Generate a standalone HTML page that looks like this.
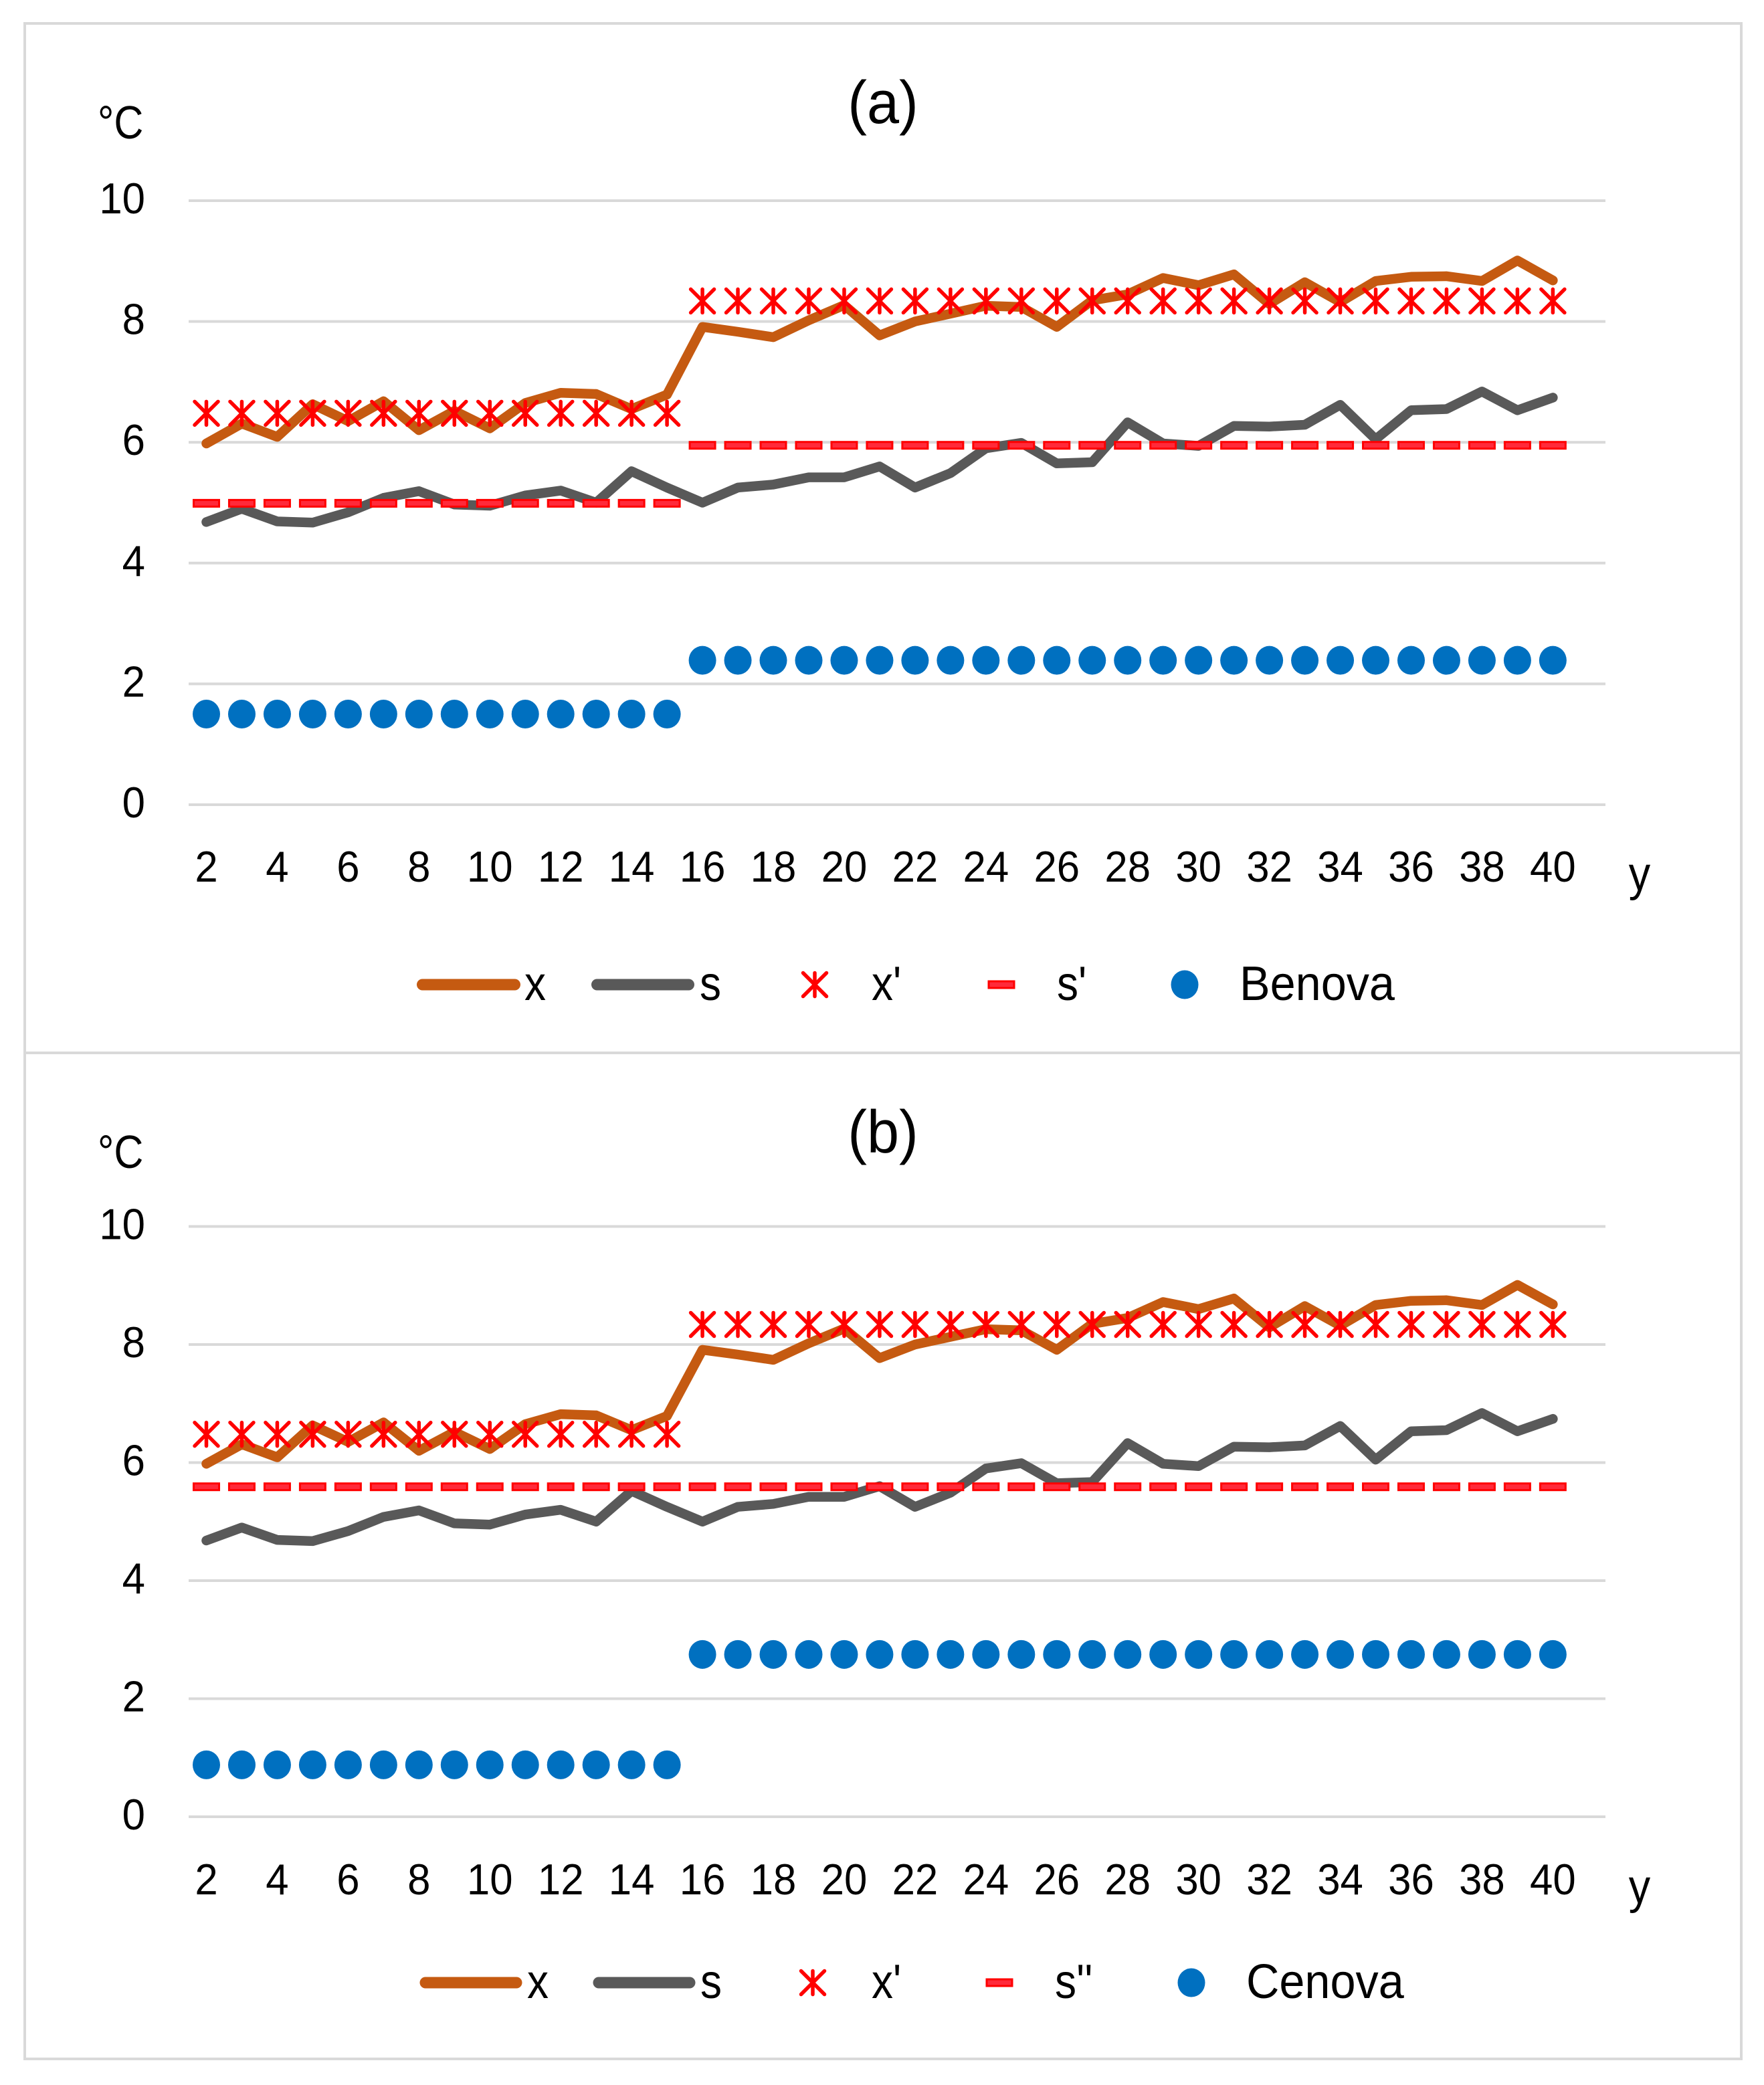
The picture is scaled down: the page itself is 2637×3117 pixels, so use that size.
<!DOCTYPE html>
<html lang="en">
<head>
<meta charset="utf-8">
<title>Temperature charts (a) and (b)</title>
<style>
html,body{margin:0;padding:0;background:#fff;}
svg{display:block;}
text{font-family:"Liberation Sans",sans-serif;fill:#000;}
</style>
</head>
<body>
<svg id="chart" xmlns="http://www.w3.org/2000/svg" width="2637" height="3117" viewBox="0 0 2637 3117">
  <rect x="37" y="35" width="2566" height="3043" fill="#fff" stroke="#d9d9d9" stroke-width="4"/>
  <line x1="37" y1="1574" x2="2603" y2="1574" stroke="#d9d9d9" stroke-width="4"/>
</svg>
<script>
const categories = [2,3,4,5,6,7,8,9,10,11,12,13,14,15,16,17,18,19,20,21,22,23,24,25,26,27,28,29,30,31,32,33,34,35,36,37,38,39,40];
const xTickLabels = [2,4,6,8,10,12,14,16,18,20,22,24,26,28,30,32,34,36,38,40];
const yTickLabels = [0,2,4,6,8,10];
const xValues = [5.98,6.31,6.09,6.63,6.35,6.68,6.20,6.52,6.23,6.65,6.82,6.80,6.55,6.79,7.91,7.83,7.74,8.02,8.27,7.77,8.00,8.13,8.26,8.24,7.91,8.35,8.45,8.72,8.60,8.78,8.29,8.65,8.32,8.67,8.74,8.75,8.67,9.01,8.68];
const sValues = [4.68,4.90,4.69,4.67,4.84,5.08,5.19,4.97,4.95,5.12,5.20,5.00,5.52,5.25,5.00,5.25,5.30,5.42,5.42,5.60,5.25,5.49,5.90,5.99,5.65,5.67,6.33,5.98,5.94,6.27,6.26,6.29,6.62,6.05,6.53,6.55,6.84,6.53,6.74];
const xPrimeValues = [6.48,6.48,6.48,6.48,6.48,6.48,6.48,6.48,6.48,6.48,6.48,6.48,6.48,6.48,8.34,8.34,8.34,8.34,8.34,8.34,8.34,8.34,8.34,8.34,8.34,8.34,8.34,8.34,8.34,8.34,8.34,8.34,8.34,8.34,8.34,8.34,8.34,8.34,8.34];
const sPrimeValues = [4.99,4.99,4.99,4.99,4.99,4.99,4.99,4.99,4.99,4.99,4.99,4.99,4.99,4.99,5.95,5.95,5.95,5.95,5.95,5.95,5.95,5.95,5.95,5.95,5.95,5.95,5.95,5.95,5.95,5.95,5.95,5.95,5.95,5.95,5.95,5.95,5.95,5.95,5.95];
const sDoublePrimeValues = [5.59,5.59,5.59,5.59,5.59,5.59,5.59,5.59,5.59,5.59,5.59,5.59,5.59,5.59,5.59,5.59,5.59,5.59,5.59,5.59,5.59,5.59,5.59,5.59,5.59,5.59,5.59,5.59,5.59,5.59,5.59,5.59,5.59,5.59,5.59,5.59,5.59,5.59,5.59];
const benovaValues = [1.50,1.50,1.50,1.50,1.50,1.50,1.50,1.50,1.50,1.50,1.50,1.50,1.50,1.50,2.39,2.39,2.39,2.39,2.39,2.39,2.39,2.39,2.39,2.39,2.39,2.39,2.39,2.39,2.39,2.39,2.39,2.39,2.39,2.39,2.39,2.39,2.39,2.39,2.39];
const cenovaValues = [0.88,0.88,0.88,0.88,0.88,0.88,0.88,0.88,0.88,0.88,0.88,0.88,0.88,0.88,2.75,2.75,2.75,2.75,2.75,2.75,2.75,2.75,2.75,2.75,2.75,2.75,2.75,2.75,2.75,2.75,2.75,2.75,2.75,2.75,2.75,2.75,2.75,2.75,2.75];

const svg = document.getElementById('chart');
const NS = 'http://www.w3.org/2000/svg';
const BROWN = '#C55A11', GRAY = '#595959', RED = '#FF0000', BLUE = '#0070C0';

function xScale(c){ return 308.5 + (c - 2) * 52.97; }

function make(parent, tag, attrs, text){
  const el = document.createElementNS(NS, tag);
  for (const k in attrs) el.setAttribute(k, attrs[k]);
  if (text !== undefined) el.textContent = text;
  parent.appendChild(el);
  return el;
}

function star(parent, cx, cy, name){
  const g = make(parent, 'g', {stroke: RED, 'stroke-width': 5.5, 'stroke-linecap': 'round', fill: 'none'});
  
  
  const r = 17.5;
  make(g, 'line', {x1: cx - r, y1: cy - r, x2: cx + r, y2: cy + r});
  make(g, 'line', {x1: cx + r, y1: cy - r, x2: cx - r, y2: cy + r});
  make(g, 'line', {x1: cx, y1: cy - r, x2: cx, y2: cy + r});
}

function dash(parent, cx, cy, name){
  const el = make(parent, 'rect', {x: cx - 19, y: cy - 5, width: 38, height: 10, fill: '#ff2a3a', stroke: RED, 'stroke-width': 3});
  
  
}

function dot(parent, cx, cy, name){
  const el = make(parent, 'ellipse', {cx: cx, cy: cy, rx: 20.5, ry: 21.5, fill: BLUE});
  
  
}

function linePath(parent, values, yScale, color, name){
  const pts = values.map((v, i) => xScale(categories[i]).toFixed(1) + ',' + yScale(v).toFixed(1)).join(' ');
  const el = make(parent, 'polyline', {points: pts, fill: 'none', stroke: color, 'stroke-width': 14.5, 'stroke-linejoin': 'round', 'stroke-linecap': 'round'});
  
  
}

function label(parent, x, y, size, sx, str, anchor, name){
  const el = make(parent, 'text', {x: 0, y: 0, 'font-size': size, 'text-anchor': anchor, transform: 'translate(' + x + ' ' + y + ') scale(' + sx + ' 1)'}, str);
  
  
}

function drawPanel(p){
  const g = make(svg, 'g', {});
  
  
  const yScale = v => p.y0 - v * p.unit;

  yTickLabels.forEach(t => {
    const grid = make(g, 'line', {x1: 282, x2: 2400, y1: yScale(t), y2: yScale(t), stroke: '#d9d9d9', 'stroke-width': 4});
    
    
    label(g, 217, yScale(t) + 19, 65, 0.95, String(t), 'end', 'y-tick-label');
  });
  xTickLabels.forEach(t => {
    label(g, xScale(t), p.xTickY, 65, 0.95, String(t), 'middle', 'x-tick-label');
  });

  label(g, 1320, p.titleY, 90, 0.96, '(' + p.id + ')', 'middle', 'panel-title');
  label(g, 146, p.unitY, 70, 0.87, '°C', 'start', 'y-axis-unit');
  label(g, 2451, p.yLabelY, 72, 0.9, 'y', 'middle', 'x-axis-title');

  linePath(g, xValues, yScale, BROWN, 'series-x-line');
  linePath(g, sValues, yScale, GRAY, 'series-s-line');
  xPrimeValues.forEach((v, i) => star(g, xScale(categories[i]), yScale(v), 'series-x-prime-marker'));
  p.dashValues.forEach((v, i) => dash(g, xScale(categories[i]), yScale(v), 'series-s-prime-marker'));
  p.dotValues.forEach((v, i) => dot(g, xScale(categories[i]), yScale(v), 'series-station-marker'));

  const L = p.legend;
  const base = L.y + 23;
  const leg = make(g, 'g', {});
  
  
  const l1 = make(leg, 'line', {x1: L.brown[0], x2: L.brown[1], y1: L.y, y2: L.y, stroke: BROWN, 'stroke-width': 17, 'stroke-linecap': 'round'});
  
  
  label(leg, L.xText, base, 72, 0.89, 'x', 'start', 'legend-x-label');
  const l2 = make(leg, 'line', {x1: L.gray[0], x2: L.gray[1], y1: L.y, y2: L.y, stroke: GRAY, 'stroke-width': 17, 'stroke-linecap': 'round'});
  
  
  label(leg, L.sText, base, 72, 0.89, 's', 'start', 'legend-s-label');
  star(leg, L.star, L.y, 'legend-x-prime-swatch');
  label(leg, L.xpText, base, 72, 0.89, "x'", 'start', 'legend-x-prime-label');
  dash(leg, L.dash, L.y, 'legend-s-prime-swatch');
  label(leg, L.spText, base, 72, 0.89, L.spLabel, 'start', 'legend-s-prime-label');
  dot(leg, L.dot, L.y, 'legend-station-swatch');
  label(leg, L.nameText, base, 72, 0.95, L.name, 'start', 'legend-station-label');
}

drawPanel({
  id: 'a', y0: 1203, unit: 90.3, xTickY: 1318, titleY: 184, unitY: 207, yLabelY: 1331,
  dashValues: sPrimeValues, dotValues: benovaValues,
  legend: {y: 1472, brown: [631.5, 769.5], xText: 784, gray: [892.5, 1029.5], sText: 1046, star: 1218, xpText: 1303, dash: 1497, spText: 1580, spLabel: "s'", dot: 1771, nameText: 1853, name: 'Benova'}
});
drawPanel({
  id: 'b', y0: 2716, unit: 88.25, xTickY: 2832, titleY: 1723, unitY: 1746, yLabelY: 2845,
  dashValues: sDoublePrimeValues, dotValues: cenovaValues,
  legend: {y: 2964, brown: [636, 772], xText: 788, gray: [895, 1031], sText: 1047, star: 1215, xpText: 1303, dash: 1494, spText: 1577, spLabel: "s''", dot: 1781, nameText: 1863, name: 'Cenova'}
});
</script>
</body>
</html>
